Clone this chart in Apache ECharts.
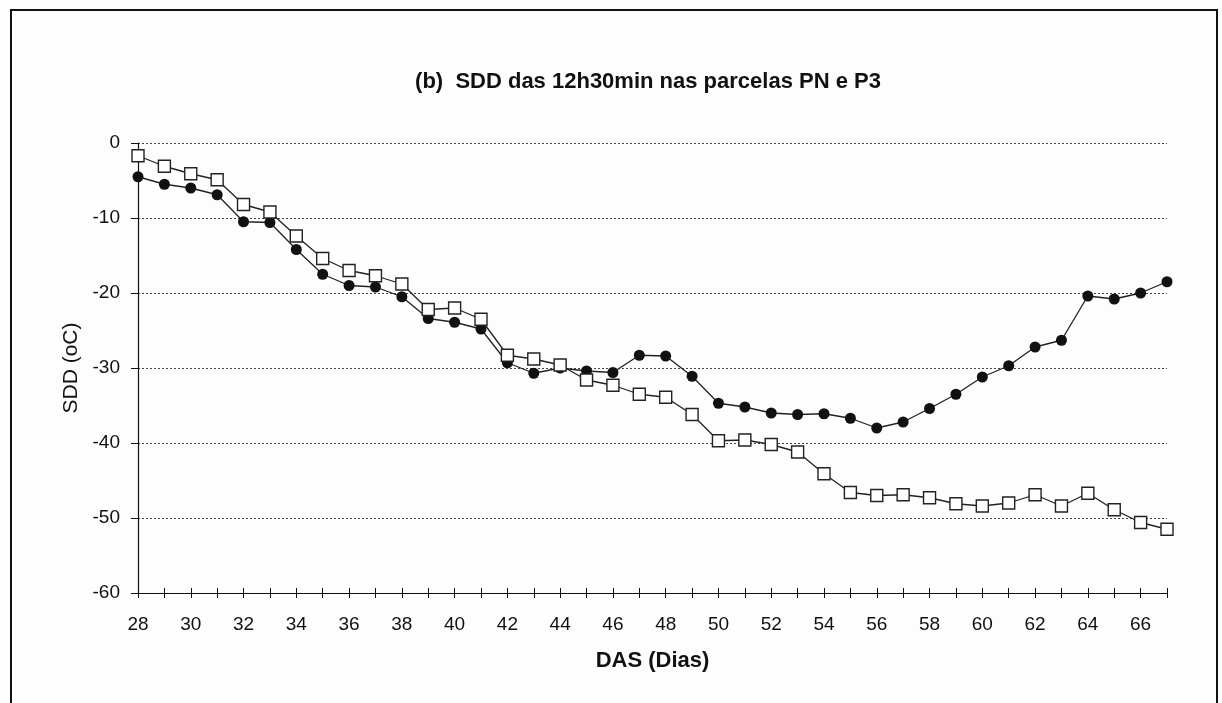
<!DOCTYPE html>
<html>
<head>
<meta charset="utf-8">
<script src="https://cdn.jsdelivr.net/npm/echarts@6/dist/echarts.min.js"></script>
<style>
html,body{margin:0;padding:0;background:#fdfdfd;}
#chart{width:1222px;height:703px;}
</style>
</head>
<body>
<div id="chart"></div>
<script>
const dias = [28,29,30,31,32,33,34,35,36,37,38,39,40,41,42,43,44,45,46,47,48,49,50,51,52,53,54,55,56,57,58,59,60,61,62,63,64,65,66,67];
const serieCirculos = [-4.5,-5.5,-6.0,-6.9,-10.5,-10.6,-14.2,-17.5,-19.0,-19.2,-20.5,-23.4,-23.9,-24.8,-29.3,-30.7,-30.0,-30.4,-30.6,-28.3,-28.4,-31.1,-34.7,-35.2,-36.0,-36.2,-36.1,-36.7,-38.0,-37.2,-35.4,-33.5,-31.2,-29.7,-27.2,-26.3,-20.4,-20.8,-20.0,-18.5];
const serieQuadrados = [-1.7,-3.1,-4.1,-4.9,-8.2,-9.2,-12.4,-15.4,-17.0,-17.7,-18.8,-22.2,-22.0,-23.5,-28.3,-28.8,-29.6,-31.6,-32.3,-33.5,-33.9,-36.2,-39.7,-39.6,-40.2,-41.2,-44.1,-46.6,-47.0,-46.9,-47.3,-48.1,-48.4,-48.0,-46.9,-48.4,-46.7,-48.9,-50.6,-51.5];
const tituloTexto = '(b)  SDD das 12h30min nas parcelas PN e P3';
const nomeX = 'DAS (Dias)';
const nomeY = 'SDD (oC)';

const chart = echarts.init(document.getElementById('chart'), null, {renderer:'canvas'});
const fam = 'Liberation Sans, Arial, sans-serif';
const grade = {color: '#444', type: [2, 2], width: 1};
chart.setOption({
  backgroundColor: '#fdfdfd',
  animation: false,
  grid: {left: 138, right: 55, top: 143, bottom: 110},
  graphic: [
    {type:'rect', shape:{x:11, y:10, width:1206, height:700}, style:{fill:'none', stroke:'#111', lineWidth:2}, z:-1},
    {type:'text', x:648, y:82, style:{text: tituloTexto, textAlign:'center', textVerticalAlign:'middle', font:'bold 22px ' + fam, fill:'#111'}}
  ],
  xAxis: [{
    type: 'value', min: 28, max: 67, interval: 1, position: 'bottom',
    name: nomeX, nameLocation: 'middle', nameGap: 57,
    nameTextStyle: {fontFamily: fam, fontWeight: 'bold', fontSize: 22, color: '#111'},
    axisLine: {onZero: false, lineStyle: {color: '#111', width: 1.2}},
    axisTick: {show: true, length: 5, lineStyle: {color: '#111'}},
    axisLabel: {fontFamily: fam, fontSize: 19, color: '#111', margin: 22,
      formatter: v => (v % 2 === 0 && v < 67) ? String(v) : ''},
    splitLine: {show: false}
  }, {
    type: 'value', min: 28, max: 67, interval: 1, position: 'bottom', offset: 0,
    axisLine: {onZero: false, lineStyle: {color: '#111', width: 1.2}},
    axisTick: {show: true, inside: true, length: 5, lineStyle: {color: '#111'}},
    axisLabel: {show: false},
    splitLine: {show: false}
  }],
  yAxis: {
    type: 'value', min: -60, max: 0, interval: 10,
    name: nomeY, nameLocation: 'middle', nameGap: 56, nameRotate: 90,
    nameTextStyle: {fontFamily: fam, fontSize: 21, color: '#111'},
    axisLine: {show: true, onZero: false, lineStyle: {color: '#111', width: 1.2}},
    axisTick: {show: true, length: 7, lineStyle: {color: '#111'}},
    axisLabel: {fontFamily: fam, fontSize: 19, color: '#111', margin: 18},
    splitLine: {show: true, lineStyle: grade}
  },
  series: [
    {
      type: 'line', name: 'circulos',
      data: dias.map((d, i) => [d, serieCirculos[i]]),
      symbol: 'circle', symbolSize: 11,
      lineStyle: {color: '#222', width: 1.3},
      itemStyle: {color: '#111', borderColor: '#111', borderWidth: 0},
      z: 3
    },
    {
      type: 'line', name: 'quadrados',
      data: dias.map((d, i) => [d, serieQuadrados[i]]),
      symbol: 'rect', symbolSize: 12,
      lineStyle: {color: '#222', width: 1.3},
      itemStyle: {color: '#ffffff', borderColor: '#222', borderWidth: 1.4},
      z: 4
    }
  ]
});
</script>
</body>
</html>
